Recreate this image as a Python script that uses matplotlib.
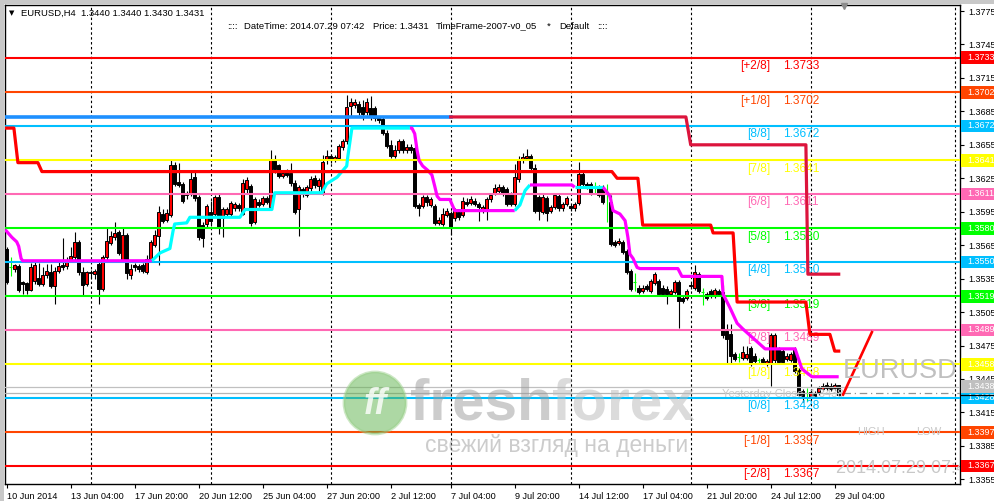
import numpy as np
import matplotlib
matplotlib.use("Agg")
import matplotlib.pyplot as plt
import matplotlib.transforms as mtransforms
from matplotlib.patches import Rectangle, Circle

# EURUSD H4 candles, 10 Jun 2014 .. 29 Jul 2014 04:00
opens = [
    1.3562, 1.3545, 1.3544, 1.3546, 1.3532, 1.3531, 1.3525, 1.3533, 1.3536, 1.3530,
    1.3538, 1.3541, 1.3528, 1.3542, 1.3547, 1.3546, 1.3551, 1.3554, 1.3568, 1.3541,
    1.3530, 1.3541, 1.3539, 1.3548, 1.3526, 1.3554, 1.3567, 1.3572, 1.3577, 1.3552,
    1.3574, 1.3538, 1.3547, 1.3546, 1.3547, 1.3541, 1.3553, 1.3565, 1.3573, 1.3593,
    1.3588, 1.3592, 1.3637, 1.3622, 1.3620, 1.3612, 1.3611, 1.3626, 1.3608, 1.3583,
    1.3584, 1.3595, 1.3593, 1.3608, 1.3589, 1.3593, 1.3593, 1.3598, 1.3601, 1.3593,
    1.3615, 1.3618, 1.3586, 1.3604, 1.3602, 1.3607, 1.3599, 1.3641, 1.3637, 1.3627,
    1.3631, 1.3630, 1.3621, 1.3597, 1.3615, 1.3610, 1.3616, 1.3625, 1.3618, 1.3612,
    1.3641, 1.3645, 1.3642, 1.3643, 1.3653, 1.3658, 1.3690, 1.3691, 1.3692, 1.3689,
    1.3684, 1.3688, 1.3688, 1.3679, 1.3678, 1.3666, 1.3655, 1.3645, 1.3650, 1.3658,
    1.3650, 1.3653, 1.3652, 1.3601, 1.3600, 1.3608, 1.3601, 1.3600, 1.3585, 1.3584,
    1.3592, 1.3594, 1.3589, 1.3595, 1.3592, 1.3604, 1.3603, 1.3605, 1.3602, 1.3596,
    1.3596, 1.3606, 1.3612, 1.3614, 1.3617, 1.3615, 1.3611, 1.3602, 1.3624, 1.3641,
    1.3643, 1.3645, 1.3634, 1.3608, 1.3595, 1.3607, 1.3596, 1.3599, 1.3609, 1.3598,
    1.3602, 1.3600, 1.3598, 1.3603, 1.3629, 1.3620, 1.3620, 1.3618, 1.3617, 1.3617,
    1.3612, 1.3604, 1.3568, 1.3567, 1.3568, 1.3560, 1.3542, 1.3532, 1.3527, 1.3524,
    1.3528, 1.3524, 1.3531, 1.3533, 1.3527, 1.3526, 1.3521, 1.3523, 1.3532, 1.3518,
    1.3518, 1.3528, 1.3527, 1.3539, 1.3523, 1.3521, 1.3524, 1.3520, 1.3524, 1.3523,
    1.3488, 1.3485, 1.3467, 1.3465, 1.3464, 1.3464, 1.3473, 1.3466, 1.3462, 1.3463,
    1.3459, 1.3458, 1.3462, 1.3472, 1.3470, 1.3463, 1.3462, 1.3472, 1.3453, 1.3434,
    1.3432, 1.3430, 1.3432, 1.3433, 1.3436, 1.3440, 1.3439, 1.3437, 1.3440]
highs = [
    1.3563, 1.3554, 1.3548, 1.3548, 1.3533, 1.3532, 1.3549, 1.3550, 1.3549, 1.3545,
    1.3548, 1.3548, 1.3545, 1.3552, 1.3571, 1.3554, 1.3563, 1.3577, 1.3570, 1.3545,
    1.3542, 1.3543, 1.3544, 1.3550, 1.3556, 1.3580, 1.3578, 1.3586, 1.3579, 1.3580,
    1.3576, 1.3548, 1.3549, 1.3548, 1.3549, 1.3556, 1.3570, 1.3579, 1.3600, 1.3597,
    1.3597, 1.3641, 1.3640, 1.3639, 1.3622, 1.3614, 1.3632, 1.3632, 1.3610, 1.3586,
    1.3602, 1.3605, 1.3610, 1.3612, 1.3599, 1.3599, 1.3605, 1.3604, 1.3603, 1.3624,
    1.3626, 1.3620, 1.3608, 1.3606, 1.3609, 1.3609, 1.3650, 1.3646, 1.3638, 1.3632,
    1.3633, 1.3639, 1.3623, 1.3619, 1.3617, 1.3619, 1.3627, 1.3628, 1.3625, 1.3646,
    1.3650, 1.3647, 1.3646, 1.3656, 1.3660, 1.3700, 1.3697, 1.3696, 1.3694, 1.3695,
    1.3697, 1.3699, 1.3690, 1.3681, 1.3680, 1.3668, 1.3659, 1.3655, 1.3660, 1.3660,
    1.3656, 1.3656, 1.3654, 1.3603, 1.3610, 1.3610, 1.3608, 1.3602, 1.3590, 1.3598,
    1.3598, 1.3596, 1.3598, 1.3597, 1.3608, 1.3607, 1.3609, 1.3607, 1.3604, 1.3601,
    1.3608, 1.3612, 1.3620, 1.3620, 1.3619, 1.3617, 1.3613, 1.3638, 1.3645, 1.3648,
    1.3651, 1.3647, 1.3638, 1.3610, 1.3611, 1.3609, 1.3601, 1.3612, 1.3611, 1.3604,
    1.3609, 1.3602, 1.3604, 1.3640, 1.3631, 1.3622, 1.3622, 1.3622, 1.3619, 1.3619,
    1.3620, 1.3610, 1.3570, 1.3571, 1.3570, 1.3562, 1.3544, 1.3540, 1.3529, 1.3529,
    1.3530, 1.3535, 1.3541, 1.3535, 1.3529, 1.3528, 1.3526, 1.3534, 1.3534, 1.3520,
    1.3526, 1.3531, 1.3547, 1.3541, 1.3527, 1.3523, 1.3526, 1.3527, 1.3526, 1.3529,
    1.3494, 1.3494, 1.3469, 1.3468, 1.3475, 1.3475, 1.3475, 1.3468, 1.3464, 1.3465,
    1.3463, 1.3486, 1.3486, 1.3474, 1.3472, 1.3468, 1.3469, 1.3474, 1.3455, 1.3436,
    1.3437, 1.3435, 1.3434, 1.3439, 1.3441, 1.3442, 1.3441, 1.3441, 1.3440]
lows = [
    1.3530, 1.3537, 1.3541, 1.3523, 1.3521, 1.3521, 1.3524, 1.3530, 1.3528, 1.3528,
    1.3536, 1.3527, 1.3512, 1.3540, 1.3543, 1.3544, 1.3550, 1.3552, 1.3538, 1.3520,
    1.3528, 1.3535, 1.3535, 1.3512, 1.3524, 1.3552, 1.3565, 1.3570, 1.3556, 1.3550,
    1.3535, 1.3535, 1.3542, 1.3541, 1.3540, 1.3539, 1.3551, 1.3563, 1.3547, 1.3585,
    1.3586, 1.3590, 1.3618, 1.3617, 1.3603, 1.3606, 1.3609, 1.3605, 1.3570, 1.3563,
    1.3580, 1.3582, 1.3590, 1.3575, 1.3572, 1.3591, 1.3590, 1.3596, 1.3596, 1.3592,
    1.3612, 1.3582, 1.3584, 1.3599, 1.3600, 1.3602, 1.3598, 1.3630, 1.3625, 1.3625,
    1.3626, 1.3618, 1.3593, 1.3573, 1.3608, 1.3608, 1.3614, 1.3616, 1.3614, 1.3610,
    1.3638, 1.3639, 1.3640, 1.3641, 1.3650, 1.3656, 1.3680, 1.3688, 1.3682, 1.3677,
    1.3682, 1.3677, 1.3676, 1.3675, 1.3664, 1.3652, 1.3643, 1.3643, 1.3648, 1.3648,
    1.3648, 1.3648, 1.3598, 1.3591, 1.3598, 1.3600, 1.3599, 1.3583, 1.3583, 1.3582,
    1.3590, 1.3574, 1.3587, 1.3588, 1.3590, 1.3600, 1.3601, 1.3600, 1.3587, 1.3594,
    1.3588, 1.3604, 1.3610, 1.3612, 1.3609, 1.3600, 1.3600, 1.3600, 1.3622, 1.3639,
    1.3641, 1.3632, 1.3594, 1.3588, 1.3593, 1.3587, 1.3594, 1.3597, 1.3596, 1.3596,
    1.3600, 1.3596, 1.3596, 1.3601, 1.3618, 1.3615, 1.3610, 1.3611, 1.3608, 1.3602,
    1.3586, 1.3564, 1.3563, 1.3565, 1.3557, 1.3539, 1.3524, 1.3524, 1.3521, 1.3522,
    1.3524, 1.3522, 1.3529, 1.3519, 1.3519, 1.3512, 1.3519, 1.3521, 1.3491, 1.3513,
    1.3516, 1.3526, 1.3525, 1.3522, 1.3511, 1.3516, 1.3518, 1.3518, 1.3519, 1.3482,
    1.3458, 1.3458, 1.3461, 1.3460, 1.3462, 1.3462, 1.3457, 1.3459, 1.3459, 1.3458,
    1.3457, 1.3439, 1.3458, 1.3458, 1.3458, 1.3461, 1.3460, 1.3450, 1.3429, 1.3424,
    1.3425, 1.3428, 1.3428, 1.3431, 1.3434, 1.3435, 1.3434, 1.3435, 1.3430]
closes = [
    1.3532, 1.3545, 1.3547, 1.3525, 1.3530, 1.3525, 1.3545, 1.3547, 1.3530, 1.3538,
    1.3542, 1.3528, 1.3542, 1.3546, 1.3545, 1.3551, 1.3555, 1.3568, 1.3541, 1.3529,
    1.3541, 1.3540, 1.3542, 1.3526, 1.3554, 1.3569, 1.3573, 1.3576, 1.3558, 1.3574,
    1.3540, 1.3544, 1.3545, 1.3544, 1.3542, 1.3553, 1.3568, 1.3574, 1.3595, 1.3587,
    1.3594, 1.3637, 1.3620, 1.3619, 1.3605, 1.3610, 1.3624, 1.3607, 1.3572, 1.3571,
    1.3600, 1.3587, 1.3608, 1.3581, 1.3597, 1.3597, 1.3603, 1.3602, 1.3598, 1.3621,
    1.3623, 1.3585, 1.3606, 1.3601, 1.3607, 1.3604, 1.3641, 1.3633, 1.3627, 1.3630,
    1.3628, 1.3621, 1.3595, 1.3617, 1.3612, 1.3617, 1.3624, 1.3619, 1.3623, 1.3640,
    1.3645, 1.3642, 1.3644, 1.3654, 1.3658, 1.3689, 1.3693, 1.3693, 1.3684, 1.3683,
    1.3693, 1.3680, 1.3679, 1.3677, 1.3666, 1.3654, 1.3645, 1.3650, 1.3658, 1.3650,
    1.3653, 1.3650, 1.3600, 1.3598, 1.3608, 1.3604, 1.3606, 1.3585, 1.3588, 1.3593,
    1.3596, 1.3581, 1.3596, 1.3590, 1.3605, 1.3602, 1.3606, 1.3602, 1.3599, 1.3599,
    1.3606, 1.3610, 1.3616, 1.3617, 1.3611, 1.3602, 1.3602, 1.3626, 1.3641, 1.3644,
    1.3645, 1.3634, 1.3596, 1.3596, 1.3608, 1.3594, 1.3599, 1.3610, 1.3598, 1.3602,
    1.3607, 1.3598, 1.3602, 1.3629, 1.3620, 1.3617, 1.3612, 1.3618, 1.3610, 1.3604,
    1.3612, 1.3566, 1.3565, 1.3569, 1.3559, 1.3541, 1.3526, 1.3532, 1.3523, 1.3527,
    1.3526, 1.3533, 1.3539, 1.3521, 1.3521, 1.3521, 1.3524, 1.3532, 1.3515, 1.3515,
    1.3524, 1.3529, 1.3541, 1.3524, 1.3523, 1.3518, 1.3520, 1.3525, 1.3521, 1.3484,
    1.3481, 1.3466, 1.3463, 1.3465, 1.3469, 1.3467, 1.3459, 1.3461, 1.3462, 1.3460,
    1.3461, 1.3484, 1.3484, 1.3460, 1.3460, 1.3466, 1.3467, 1.3452, 1.3431, 1.3430,
    1.3432, 1.3433, 1.3430, 1.3437, 1.3439, 1.3437, 1.3436, 1.3440, 1.3431]

# Murrey math levels
level_names = ["[+2/8]", "[+1/8]", "[8/8]", "[7/8]", "[6/8]", "[5/8]", "[4/8]",
               "[3/8]", "[2/8]", "[1/8]", "[0/8]", "[-1/8]", "[-2/8]"]
level_prices = [1.3733, 1.3702, 1.3672, 1.3641, 1.3611, 1.3580, 1.3550,
                1.3519, 1.3489, 1.3458, 1.3428, 1.3397, 1.3367]
level_colors = ["#FF0000", "#FF4500", "#00BFFF", "#FFFF00", "#FF69B4", "#00FF00", "#00BFFF",
                "#00FF00", "#FF69B4", "#FFFF00", "#00BFFF", "#FF4500", "#FF0000"]

price_ticks = [1.3775, 1.3745, 1.3715, 1.3685, 1.3655, 1.3625, 1.3595, 1.3565,
               1.3535, 1.3505, 1.3475, 1.3445, 1.3415, 1.3385, 1.3355]
time_ticks = [0, 16, 32, 48, 64, 80, 96, 111, 127, 143, 159, 175, 191, 207]
time_labels = ["10 Jun 2014", "13 Jun 04:00", "17 Jun 20:00", "20 Jun 12:00", "25 Jun 04:00",
               "27 Jun 20:00", "2 Jul 12:00", "7 Jul 04:00", "9 Jul 20:00", "14 Jul 12:00",
               "17 Jul 04:00", "21 Jul 20:00", "24 Jul 12:00", "29 Jul 04:00"]
grid_bars = [21, 51, 81, 111, 141, 171, 201, 237]

# trailing line: magenta while falling, cyan while rising (bar, price breakpoints)
mag1_x = [-0.4, 1.3, 2.5, 3.0, 3.6, 4.0, 36.3]
mag1_y = [1.3579, 1.3572, 1.3568, 1.3564, 1.3553, 1.3551, 1.3551]
cyan1_x = [36.3, 38.3, 40.8, 41.6, 42.0, 45.0, 45.8, 58.3, 59.6, 66.3, 67.0, 78.8, 80.0,
           82.6, 85.0, 85.3, 86.3, 100.8]
cyan1_y = [1.3551, 1.3558, 1.3562, 1.3578, 1.3584, 1.3585, 1.3590, 1.3590, 1.3597, 1.3597,
           1.3612, 1.3612, 1.3620, 1.3626, 1.3636, 1.3645, 1.3670, 1.3670]
mag2_x = [100.8, 101.3, 102.0, 102.6, 103.1, 104.0, 105.3, 106.3, 107.0, 107.6, 108.3,
          110.8, 112.0, 127.0]
mag2_y = [1.3670, 1.3670, 1.3665, 1.3650, 1.3641, 1.3636, 1.3632, 1.3628, 1.3618, 1.3609,
          1.3606, 1.3606, 1.3596, 1.3596]
cyan2_x = [127.0, 128.3, 129.6, 130.8]
cyan2_y = [1.3596, 1.3601, 1.3614, 1.3619]
mag3_x = [130.8, 141.3, 142.0]
mag3_y = [1.3619, 1.3619, 1.3617]
cyan3_x = [142.0, 149.1]
cyan3_y = [1.3617, 1.3617]
mag4_x = [149.1, 150.8, 151.6, 153.3, 154.6, 155.3, 155.8, 156.6, 157.6, 158.3, 167.8, 168.8,
          178.8, 179.1, 180.8, 182.6, 184.0, 189.6, 197.1, 198.8, 201.3, 208.0]
mag4_y = [1.3617, 1.3609, 1.3596, 1.3593, 1.3587, 1.3572, 1.3557, 1.3553, 1.3545, 1.3544,
          1.3544, 1.3537, 1.3537, 1.3521, 1.3509, 1.3495, 1.3490, 1.3472, 1.3472, 1.3454,
          1.3447, 1.3447]

# red channel line
redb_x = [-0.4, 1.8, 2.8, 7.8, 8.8, 151.3, 152.6, 157.8, 159.0, 176.0, 176.6, 181.6,
          182.6, 199.8, 200.8, 205.8, 207.0, 208.0]
redb_y = [1.3670, 1.3670, 1.3639, 1.3639, 1.3631, 1.3631, 1.3625, 1.3625, 1.3583, 1.3583,
          1.3576, 1.3576, 1.3514, 1.3514, 1.3485, 1.3485, 1.3470, 1.3470]
# upper line: blue part, then crimson part
blue_x = [-0.4, 111.0]
blue_y = [1.3680, 1.3680]
crim_x = [111.0, 169.8, 171.0, 199.8, 200.3, 208.0]
crim_y = [1.3680, 1.3680, 1.3655, 1.3655, 1.3539, 1.3539]
# projection stroke
proj_x = [209.1, 216.3]
proj_y = [1.3431, 1.3487]

yclose = 1.3438
bid = 1.3431

AXF = "Liberation Sans"
W, H = 995, 501
fig = plt.figure(figsize=(W / 100, H / 100), dpi=100, facecolor="white")
ax = fig.add_axes([5 / W, 17 / H, 955 / W, 479 / H])
ax.set_facecolor("white")
ax.set_xlim(-0.425, 238.325)
ax.set_ylim(1.33508, 1.37804)
for s in ax.spines.values():
    s.set_color("black")
    s.set_linewidth(1.0)

# grid
ax.vlines(grid_bars, 1.33508, 1.37804, colors="black", linestyles=(0, (2.2, 2.2)),
          linewidth=0.8, zorder=1)

# candles
x = np.arange(len(closes))
o = np.array(opens); h = np.array(highs); l = np.array(lows); c = np.array(closes)
up = c > o
dn = c < o
dj = c == o
ax.vlines(x[~dj], l[~dj], h[~dj], colors="black", linewidth=0.8, zorder=3)
ax.vlines(x[dj], l[dj], h[dj], colors="#00FF00", linewidth=0.8, zorder=3)
ax.bar(x[up], c[up] - o[up], bottom=o[up], width=0.62, color="#FF0000",
       edgecolor="black", linewidth=0.7, zorder=4)
ax.bar(x[dn], o[dn] - c[dn], bottom=c[dn], width=0.62, color="black",
       edgecolor="black", linewidth=0.7, zorder=4)
ax.hlines(c[dj], x[dj] - 0.35, x[dj] + 0.35, colors="#00FF00", linewidth=0.8, zorder=4)

# murrey levels and labels
for name, p, col in zip(level_names, level_prices, level_colors):
    ax.axhline(p, color=col, linewidth=1.5, zorder=5)
    ax.text(190.8, p - 0.00022, name, color=col, fontsize=8.6, family=AXF,
            ha="right", va="top", zorder=6)
    ax.text(194.1, p - 0.00022, "%.4f" % p, color=col, fontsize=8.6,
            family=AXF, ha="left", va="top", zorder=6)

# yesterday close / bid lines
ax.axhline(yclose, color="#C0C0C0", linewidth=0.9, zorder=5)
ax.plot([-0.4, 209], [bid + 0.0001, bid + 0.0001], color="#B4B4B4", linewidth=0.9, zorder=5)
ax.plot([209, 238.3], [bid + 0.0001, bid + 0.0001], color="#909090", linewidth=0.9,
        linestyle=(0, (6, 3, 1, 3)), zorder=5)

# indicator lines
lw_ind = 2.3
for xs, ys, col in [(mag1_x, mag1_y, "#FF00FF"), (cyan1_x, cyan1_y, "#00FFFF"),
                    (mag2_x, mag2_y, "#FF00FF"), (cyan2_x, cyan2_y, "#00FFFF"),
                    (mag3_x, mag3_y, "#FF00FF"), (cyan3_x, cyan3_y, "#00FFFF"),
                    (mag4_x, mag4_y, "#FF00FF")]:
    ax.plot(xs, ys, color=col, linewidth=lw_ind, solid_capstyle="butt", zorder=7)
ax.plot(redb_x, redb_y, color="#FF0000", linewidth=lw_ind, zorder=7)
ax.plot(blue_x, blue_y, color="#1E90FF", linewidth=2.6, zorder=7)
ax.plot(crim_x, crim_y, color="#DC143C", linewidth=lw_ind, zorder=7)
ax.plot(proj_x, proj_y, color="#FF0000", linewidth=1.9, zorder=7)

# chart texts
ax.text(209.0, 1.3446, "EURUSD", color="#C0C0C0", fontsize=19.5, family=AXF,
        ha="left", va="baseline", zorder=8)
ax.text(178.8, 1.34288, "Yesterday Close  1.3438", color="#C8C8C8", fontsize=8,
        family=AXF, ha="left", va="baseline", zorder=6)
ax.text(212.6, 1.33947, "HIGH", color="#C8C8C8", fontsize=8, family=AXF,
        ha="left", va="baseline", zorder=6)
ax.text(227.3, 1.33947, "LOW", color="#C8C8C8", fontsize=8, family=AXF,
        ha="left", va="baseline", zorder=6)
ax.text(207.3, 1.33606, "2014.07.29 07:42", color="#C8C8C8", fontsize=13,
        family=AXF, ha="left", va="baseline", zorder=6, clip_on=True)

# axes ticks
ax.yaxis.tick_right()
ax.set_yticks(price_ticks)
ax.set_yticklabels(["%.4f" % p for p in price_ticks], family=AXF)
ax.tick_params(axis="y", direction="out", length=3, width=0.8, pad=3, labelsize=6.5,
               colors="black")
ax.set_xticks(time_ticks)
ax.set_xticklabels(time_labels, family=AXF)
ax.tick_params(axis="x", direction="out", length=3, width=0.8, pad=3, labelsize=6.6,
               colors="black")
for lab in ax.get_xticklabels():
    lab.set_ha("left")

# price-axis boxes
tr = mtransforms.blended_transform_factory(ax.transAxes, ax.transData)
box_h = 0.00114
for p, col in list(zip(level_prices, level_colors)) + [(yclose, "#C0C0C0")]:
    ax.add_patch(Rectangle((1.0012, p - box_h / 2), 36 / 955, box_h, transform=tr,
                           facecolor=col, edgecolor="none", clip_on=False, zorder=20))
    ax.text(1.0075, p, "%.4f" % p, transform=tr, color="white", fontsize=6.5, family=AXF,
            ha="left", va="center", clip_on=False, zorder=21)
ax.plot([1.001, 1.037], [bid, bid], transform=tr, color="black", linewidth=0.9,
        clip_on=False, zorder=22)

# overlay in pixel coordinates for header & watermark
ov = fig.add_axes([0, 0, 1, 1], zorder=10)
ov.set_xlim(0, W)
ov.set_ylim(H, 0)
ov.axis("off")
ov.patch.set_alpha(0)
ov.add_patch(Rectangle((0, 0), W, 4, facecolor="#C8C8C8", edgecolor="none"))
ov.add_patch(Rectangle((0, 0), 4, H, facecolor="#C8C8C8", edgecolor="none"))
ov.plot([844], [6], marker="v", markersize=5, color="#8C8C8C")

ov.text(9, 13, "\u25bc", fontsize=5, ha="left", va="center", color="black")
ov.text(21, 13, "EURUSD,H4  1.3440 1.3440 1.3430 1.3431", fontsize=6.8, family=AXF,
        ha="left", va="center", color="black")
for xp, s in [(227, "::::"), (244, "DateTime: 2014.07.29 07:42"), (373, "Price: 1.3431"),
              (436, "TimeFrame-2007-v0_05"), (547, "*"), (559, "Default"), (597, "::::")]:
    ov.text(xp, 26, s, fontsize=6.8, family=AXF, ha="left", va="center", color="black")

# freshforex watermark
ov.add_patch(Circle((375, 403), 31, facecolor="#5DB24A", edgecolor="#9AD08A",
                    linewidth=2, alpha=0.5))
ov.text(375, 405, "ff", fontsize=26, fontweight="bold", style="italic", color="white",
        ha="center", va="center", alpha=0.8, family=AXF)
ov.text(410, 420, "fresh", fontsize=42, fontweight="bold", color="#9A9A9A", alpha=0.5,
        ha="left", va="baseline", family=AXF)
ov.text(552, 420, "forex", fontsize=42, fontweight="bold", color="#B8B8B8", alpha=0.5,
        ha="left", va="baseline", family=AXF)
ov.text(425, 452, "свежий взгляд на деньги", fontsize=16.5, color="#9A9A9A", alpha=0.5,
        ha="left", va="baseline", family=AXF)

fig.savefig("out.png", dpi=100, facecolor="white")
